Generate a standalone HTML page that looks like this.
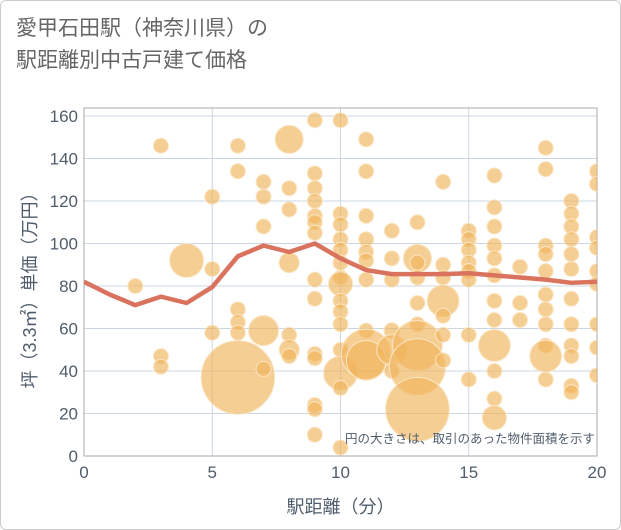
<!DOCTYPE html>
<html><head><meta charset="utf-8">
<style>
html,body{margin:0;padding:0;background:#fff;}
body{width:621px;height:530px;overflow:hidden;font-family:"Liberation Sans","Noto Sans CJK JP",sans-serif;}
.title{position:absolute;left:16px;top:13px;font-size:21px;line-height:32px;color:#666;}
</style></head>
<body>
<div style="position:absolute;left:0;top:0;width:619px;height:528px;border:1px solid #ccc;border-radius:6px;"></div>
<div class="title">愛甲石田駅（神奈川県）の<br>駅距離別中古戸建て価格</div>
<svg id="chart" width="621" height="530" style="position:absolute;left:0;top:0;font-family:'Liberation Sans','Noto Sans CJK JP',sans-serif;"></svg>
<script>
const xTicks=[0,5,10,15,20];
const yTicks=[0,20,40,60,80,100,120,140,160];
const lineX=[0,1,2,3,4,5,6,7,8,9,10,11,12,13,14,15,16,17,18,19,20];
const lineY=[82,76,71,75,72,79.5,94,99,96,100,93,87.5,85.6,85.6,85.6,86,85,84,83,81.5,82];
const bubbleX=[2,3,3,3,4,5,5,5,6,6,6,6,6,6,7,7,7,7,7,8,8,8,8,8,8,8,
9,9,9,9,9,9,9,9,9,9,9,9,9,9,
10,10,10,10,10,10,10,10,10,10,10,10,10,10,10,
11,11,11,11,11,11,11,11,11,11,
12,12,12,12,12,12,
13,13,13,13,13,13,13,13,13,
14,14,14,14,14,14,14,
15,15,15,15,15,15,15,15,
16,16,16,16,16,16,16,16,16,16,16,16,
17,17,17,
18,18,18,18,18,18,18,18,18,18,18,
19,19,19,19,19,19,19,19,19,19,19,19,
20,20,20,20,20,20,20,20,20];
const bubbleY=[80,146,47,42,92,122,88,58,146,134,69,63,58,37,59,129,122,108,41,149,126,116,91,57,50,47,
158,133,126,120,113,110,105,83,74,48,46,24,22,10,
158,114,109,102,97,91,84,81,73,68,62,50,39,32,4,
149,134,113,102,96,92,83,59,48,45,
106,93,83,59,50,40,
110,93,91,84,72,62,52,42,22,
129,90,84,73,66,57,45,
106,102,97,91,87,83,57,36,
132,117,108,99,93,85,73,64,52,40,27,18,
89,72,64,
145,135,99,95,87,76,69,62,52,47,36,
120,114,108,102,95,88,74,62,52,47,33,30,
134,128,103,98,87,81,62,51,38];
const bubbleArea=[1,1,1,1,5.1,1,1,1,1,1,1,1,1,24,4,1,1,1,1,3.5,1,1,1.8,1,1.8,1,
1,1,1,1,1,1,1,1,1,1,1,1,1,1,
1,1,1,1,1,1,1,2.6,1,1,1,1,5.1,1,1,
1,1,1,1,1,1,1,1,11,7,
1,1,1,1.1,4,1,
1,3.5,1,1,1,1,11,14,18,
1,1,1,4.5,1,1,1,
1,1,1,1,1,1,1,1,
1,1,1,1,1,1,1,1,4.5,1,1,2.6,
1,1,1,
1,1,1,1,1,1,1,1,1,4.5,1,
1,1,1,1,1,1,1,1,1,1,1,1,
1,1,1,1,1,1,1,1,1];
const svg=document.getElementById('chart');
const NS='http://www.w3.org/2000/svg';
const X0=84,X1=597,Y0=456,Y1=116;
const TXT='#4f5d6c';
const sx=v=>X0+(v-0)/20*(X1-X0);
const sy=v=>Y0-(v-0)/160*(Y0-Y1);
function mk(t,a){const e=document.createElementNS(NS,t);for(const k in a)e.setAttribute(k,a[k]);svg.appendChild(e);return e;}
const clip=document.createElementNS(NS,'clipPath');clip.setAttribute('id','pc');
const cr=document.createElementNS(NS,'rect');cr.setAttribute('x',X0);cr.setAttribute('y',Y1-8);cr.setAttribute('width',X1-X0);cr.setAttribute('height',Y0-Y1+8);
clip.appendChild(cr);svg.appendChild(clip);
yTicks.forEach(v=>{const l=mk('line',{x1:X0,x2:X1,y1:sy(v),y2:sy(v),stroke:'#ccd6e3','stroke-width':1});


const t=mk('text',{x:X0-6,y:sy(v)+6,'text-anchor':'end','font-size':17,fill:TXT});t.textContent=v;

});
xTicks.forEach(v=>{const l=mk('line',{x1:sx(v),x2:sx(v),y1:Y1-8,y2:Y0,stroke:'#ccd6e3','stroke-width':1});


const t=mk('text',{x:sx(v),y:478,'text-anchor':'middle','font-size':17,fill:TXT});t.textContent=v;

});
const border=mk('rect',{x:X0,y:Y1-8,width:X1-X0,height:Y0-Y1+8,fill:'none',stroke:'#aaa','stroke-width':1});


const g=mk('g',{'clip-path':'url(#pc)'});
bubbleX.forEach((x,i)=>{const c=document.createElementNS(NS,'circle');
c.setAttribute('cx',sx(x));c.setAttribute('cy',sy(bubbleY[i]));c.setAttribute('r',7.5*Math.sqrt(bubbleArea[i]));
c.setAttribute('fill','#f0b35a');c.setAttribute('fill-opacity','0.65');c.setAttribute('stroke','#fbe6c4');c.setAttribute('stroke-width','1');


g.appendChild(c);});
const p=document.createElementNS(NS,'polyline');
p.setAttribute('points',lineX.map((x,i)=>sx(x)+','+sy(lineY[i])).join(' '));
p.setAttribute('fill','none');p.setAttribute('stroke','#d9735e');p.setAttribute('stroke-width','4.5');p.setAttribute('stroke-linejoin','round');


g.appendChild(p);
const note=mk('text',{x:595,y:443,'text-anchor':'end','font-size':12.5,fill:TXT});note.textContent='円の大きさは、取引のあった物件面積を示す';


const xt=mk('text',{x:(X0+X1)/2,y:513,'text-anchor':'middle','font-size':18,fill:TXT});xt.textContent='駅距離（分）';


const yt=mk('text',{x:0,y:0,'text-anchor':'middle','font-size':18,fill:TXT,transform:'translate(36,'+((Y0+Y1)/2)+') rotate(-90)'});yt.textContent='坪（3.3㎡）単価（万円）';


</script>
</body></html>
